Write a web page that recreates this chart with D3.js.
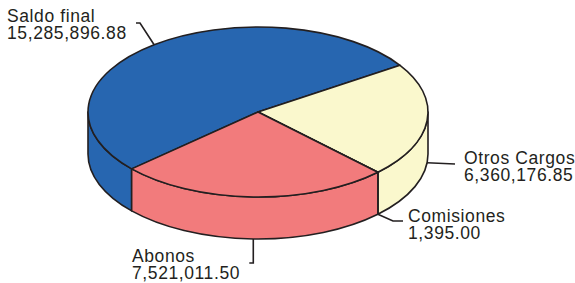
<!DOCTYPE html>
<html>
  <head>
    <title>Saldo</title>
    <script src="https://d3js.org/d3.v7.min.js"></script>
    <style>
      body { margin: 0; background: #fff; }
      text { font-family: "Liberation Sans", Arial, sans-serif; font-size: 17.5px; letter-spacing: 0.6px; fill: #231f20; }
    </style>
  </head>
  <body>
    <script>
      // Datos del grafico
      var categorias = ["Saldo final", "Otros Cargos", "Comisiones", "Abonos"];
      var valores = [15285896.88, 6360176.85, 1395.00, 7521011.50];
      var etiquetas = ["15,285,896.88", "6,360,176.85", "1,395.00", "7,521,011.50"];
      var colores = ["#2766b0", "#faf8cd", "#f27b7c", "#f27b7c"];

      var width = 575, height = 283;
      var cx = 258, cy = 112, rx = 170, ry = 85, depth = 42;

      var svg = d3.select("body").append("svg")
        .attr("width", width)
        .attr("height", height);

      // d3 angle (clockwise from 12 o'clock) -> screen point on the ellipse
      function pt(a, dy) {
        var t = a - Math.PI / 2;
        return [cx + rx * Math.cos(t), cy + ry * Math.sin(t) + (dy || 0)];
      }

      var pie = d3.pie().sort(null)
        .startAngle(228 * Math.PI / 180)
        .endAngle(228 * Math.PI / 180 + 2 * Math.PI);
      var arcs = pie(valores);

      // side walls (only the front half, screen angles 0..180 => d3 angles 90..270)
      var frontA = Math.PI / 2, frontB = 3 * Math.PI / 2;
      function wallSegments(d) {
        var segs = [];
        [-2 * Math.PI, 0, 2 * Math.PI].forEach(function(off) {
          var a0 = Math.max(d.startAngle + off, frontA);
          var a1 = Math.min(d.endAngle + off, frontB);
          if (a1 > a0) segs.push([a0, a1]);
        });
        return segs;
      }

      arcs.forEach(function(d, i) {
        wallSegments(d).forEach(function(s) {
          var p0 = pt(s[0]), p1 = pt(s[1]);
          var q0 = pt(s[0], depth), q1 = pt(s[1], depth);
          var large = (s[1] - s[0]) > Math.PI ? 1 : 0;
          var path = "M" + p0 + "A" + rx + "," + ry + " 0 " + large + " 1 " + p1 +
            "L" + q1 + "A" + rx + "," + ry + " 0 " + large + " 0 " + q0 + "Z";
          svg.append("path")
            .attr("d", path)
            .attr("fill", colores[i])
            .attr("stroke", "#231f20")
            .attr("stroke-width", 1.6)
            .attr("stroke-linejoin", "round");
        });
      });

      // top face
      arcs.forEach(function(d, i) {
        var p0 = pt(d.startAngle), p1 = pt(d.endAngle);
        var large = (d.endAngle - d.startAngle) > Math.PI ? 1 : 0;
        var path = "M" + cx + "," + cy + "L" + p0 + "A" + rx + "," + ry + " 0 " + large + " 1 " + p1 + "Z";
        svg.append("path")
          .attr("d", path)
          .attr("fill", colores[i])
          .attr("stroke", "#231f20")
          .attr("stroke-width", 1.6)
          .attr("stroke-linejoin", "round");
      });

      // leader lines and labels
      var line = d3.line();
      var mid = arcs.map(function(d) { return (d.startAngle + d.endAngle) / 2; });

      var a0 = pt(mid[0]);
      var a1 = pt(mid[1], depth);
      var a2 = pt(arcs[2].startAngle, depth);
      var a3 = pt(mid[3], depth);

      var leaders = [
        [a0, [140, 23], [136, 23]],
        [a1, [455, 164]],
        [a2, [393, 221], [403, 221]],
        [a3, [a3[0], 263], [a3[0] - 4, 263]]
      ];
      leaders.forEach(function(l) {
        svg.append("path")
          .attr("d", line(l))
          .attr("fill", "none")
          .attr("stroke", "#231f20")
          .attr("stroke-width", 1.6);
      });

      var pos = [[7, 22], [464, 164], [408, 222], [132, 262]];
      categorias.forEach(function(c, i) {
        var t = svg.append("text")
          .attr("x", pos[i][0])
          .attr("y", pos[i][1]);
        t.append("tspan").attr("x", pos[i][0]).text(c);
        t.append("tspan").attr("x", pos[i][0]).attr("dy", 16.5).text(etiquetas[i]);
      });
    </script>
  </body>
</html>
